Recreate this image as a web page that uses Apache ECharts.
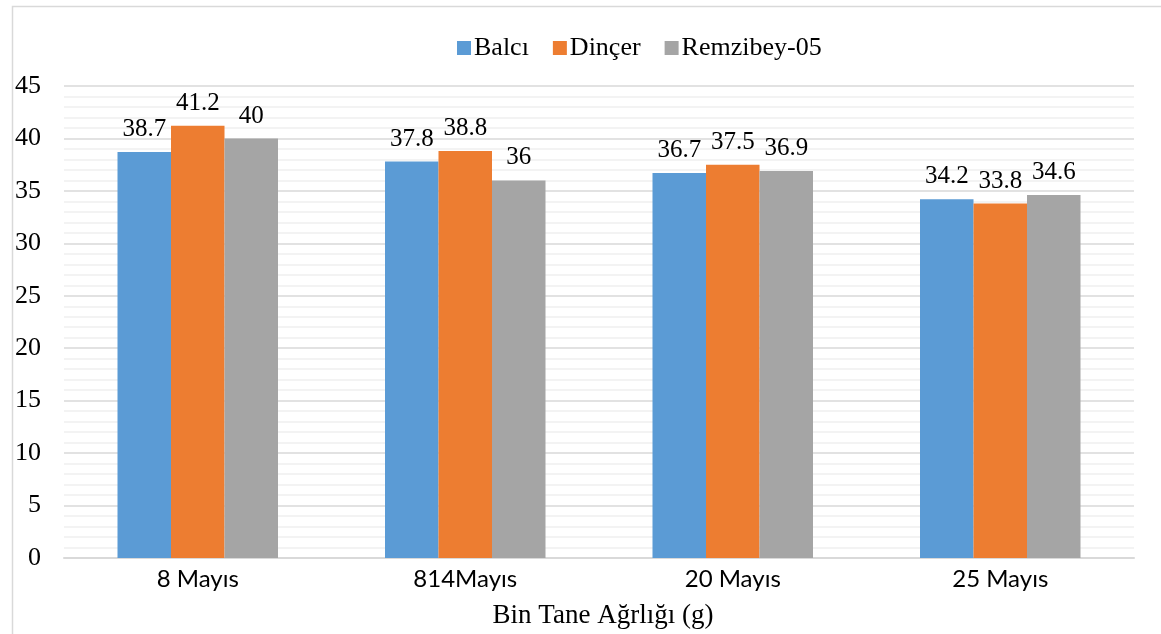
<!DOCTYPE html>
<html>
<head>
<meta charset="utf-8">
<script src="https://cdn.jsdelivr.net/npm/echarts@6/dist/echarts.min.js"></script>
<style>
html,body{margin:0;padding:0;background:#fff;}
#chart{width:1161px;height:634px;}
</style>
</head>
<body>
<div id="chart"></div>
<script>
const categories = ['8 Mayıs', '814Mayıs', '20 Mayıs', '25 Mayıs'];
const seriesNames = ['Balcı', 'Dinçer', 'Remzibey-05'];
const balci = [38.7, 37.8, 36.7, 34.2];
const dincer = [41.2, 38.8, 37.5, 33.8];
const remzibey = [40, 36, 36.9, 34.6];
const yTicks = [0, 5, 10, 15, 20, 25, 30, 35, 40, 45];
const axisTitle = 'Bin Tane Ağrlığı (g)';

const colors = ['#5b9bd5', '#ed7d31', '#a5a5a5'];
const serif = '"Liberation Serif", "DejaVu Serif", serif';
const chart = echarts.init(document.getElementById('chart'), null, {renderer: 'canvas'});

function mk(name, data, color) {
  return {
    name: name, type: 'bar', data: data,
    barGap: '0%', barCategoryGap: '40%',
    itemStyle: {color: color},
    label: {show: true, position: 'top', distance: 10, color: '#000', fontFamily: serif, fontSize: 25},
    emphasis: {disabled: true}
  };
}

chart.setOption({
  animation: false,
  color: colors,
  graphic: [{
    type: 'rect', left: 10, top: 4, z: -10,
    shape: {x: 0, y: 0, width: 1170, height: 660},
    style: {fill: 'none', stroke: '#d9d9d9', lineWidth: 1.5}
  }],
  legend: {
    top: 30, left: 452,
    itemWidth: 14, itemHeight: 14, itemGap: 24,
    icon: 'rect',
    textStyle: {fontFamily: serif, fontSize: 26, color: '#000', padding: [0, 0, 0, -2]},
    data: seriesNames
  },
  grid: {left: 64, right: 27, top: 86, bottom: 74},
  xAxis: {
    type: 'category', data: categories,
    name: axisTitle, nameLocation: 'middle', nameGap: 44,
    nameTextStyle: {fontFamily: serif, fontSize: 27, color: '#000', padding: [0, 0, 0, 8]},
    axisLine: {lineStyle: {color: '#d9d9d9', width: 2}},
    axisTick: {show: false},
    axisLabel: {fontFamily: 'Lato, "Open Sans", sans-serif', fontSize: 24, color: '#000', margin: 9}
  },
  yAxis: {
    type: 'value', min: 0, max: 45, interval: 5,
    axisLine: {show: false}, axisTick: {show: false},
    axisLabel: {fontFamily: serif, fontSize: 26, color: '#000', margin: 23,
      formatter: function (v) { return yTicks.indexOf(v) >= 0 ? String(v) : ''; }},
    splitLine: {lineStyle: {color: '#d9d9d9', width: 1.5}},
    minorTick: {show: false, splitNumber: 5},
    minorSplitLine: {show: true, lineStyle: {color: '#efefef', width: 1.5}}
  },
  series: [
    mk(seriesNames[0], balci, colors[0]),
    mk(seriesNames[1], dincer, colors[1]),
    mk(seriesNames[2], remzibey, colors[2])
  ]
});
</script>
</body>
</html>
